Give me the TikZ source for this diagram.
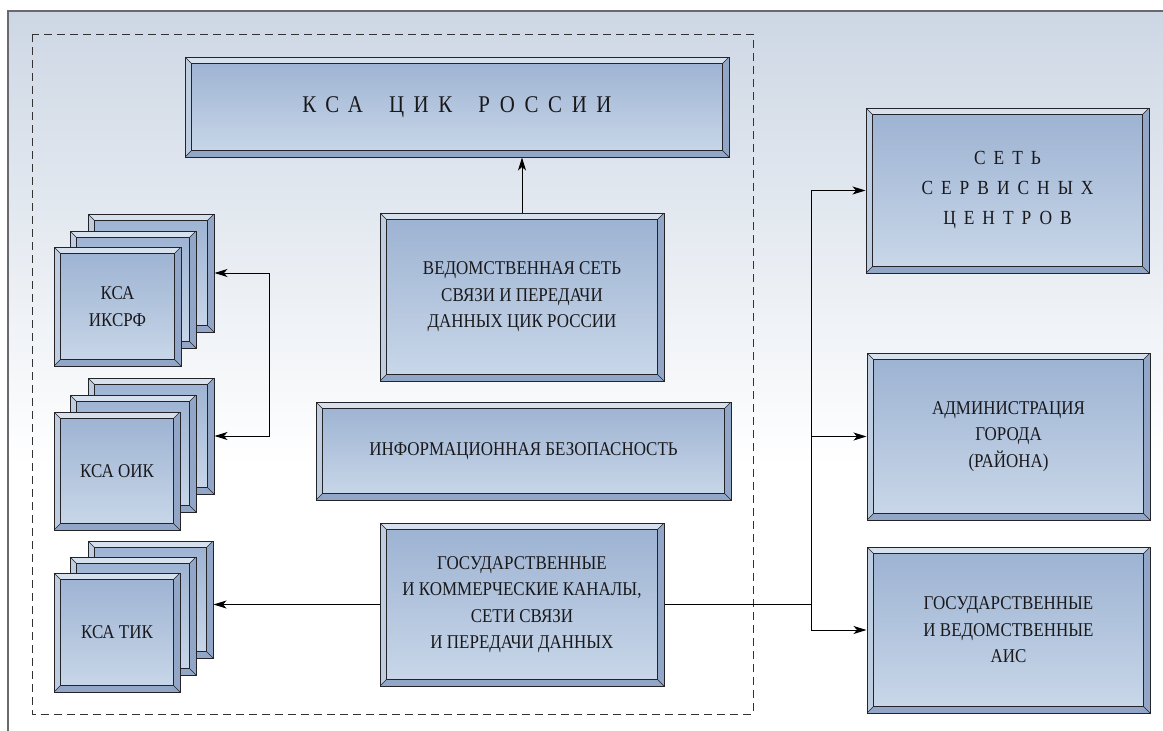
\documentclass[tikz,border=0pt]{standalone}
\usepackage{fontspec}
\setmainfont{Liberation Serif}[FakeStretch=0.87]
\usetikzlibrary{arrows.meta}
\definecolor{bgtop}{RGB}{205,215,228}
\definecolor{framec}{RGB}{105,105,110}
\definecolor{boxtop}{RGB}{156,178,210}
\definecolor{boxbot}{RGB}{202,216,233}
\definecolor{bevlight}{RGB}{214,225,237}
\definecolor{bevleft}{RGB}{190,205,224}
\definecolor{bevmid}{RGB}{146,167,199}
\definecolor{edge}{RGB}{35,35,40}
\definecolor{txt}{RGB}{25,25,28}
\newcommand\bw{6.5pt}
\tikzset{
  bbx/.style={rectangle, draw=edge, line width=1pt, top color=boxtop, bottom color=boxbot,
    inner sep=0pt, align=center, text=txt, font=\fontsize{19.5}{26.5}\selectfont,
    path picture={
      \fill[bevlight] (path picture bounding box.north west) -- (path picture bounding box.north east)
        -- ([shift={(-\bw,-\bw)}]path picture bounding box.north east)
        -- ([shift={(\bw,-\bw)}]path picture bounding box.north west) -- cycle;
      \fill[bevleft] (path picture bounding box.north west) -- (path picture bounding box.south west)
        -- ([shift={(\bw,\bw)}]path picture bounding box.south west)
        -- ([shift={(\bw,-\bw)}]path picture bounding box.north west) -- cycle;
      \fill[bevmid] (path picture bounding box.north east) -- (path picture bounding box.south east)
        -- ([shift={(-\bw,\bw)}]path picture bounding box.south east)
        -- ([shift={(-\bw,-\bw)}]path picture bounding box.north east) -- cycle;
      \fill[bevmid] (path picture bounding box.south west) -- (path picture bounding box.south east)
        -- ([shift={(-\bw,\bw)}]path picture bounding box.south east)
        -- ([shift={(\bw,\bw)}]path picture bounding box.south west) -- cycle;
      \draw[edge, line width=0.4pt]
        (path picture bounding box.north west) -- ([shift={(\bw,-\bw)}]path picture bounding box.north west)
        (path picture bounding box.north east) -- ([shift={(-\bw,-\bw)}]path picture bounding box.north east)
        (path picture bounding box.south west) -- ([shift={(\bw,\bw)}]path picture bounding box.south west)
        (path picture bounding box.south east) -- ([shift={(-\bw,\bw)}]path picture bounding box.south east);
      \draw[edge, line width=1pt] ([shift={(\bw,-\bw)}]path picture bounding box.north west)
        rectangle ([shift={(-\bw,\bw)}]path picture bounding box.south east);
    }},
  spaced/.style={font=\fontsize{#1}{30}\selectfont\addfontfeature{LetterSpace=40}},
  conn/.style={draw=black, line width=1pt},
  arr/.style={conn, -{Stealth[length=13pt,width=8pt,inset=3.5pt]}},
  darr/.style={conn, {Stealth[length=13pt,width=8pt,inset=3.5pt]}-{Stealth[length=13pt,width=8pt,inset=3.5pt]}},
  dashbox/.style={draw=black!80, line width=0.8pt, dash pattern=on 8pt off 5pt},
}
\newcommand\bbox[7][]{\node[bbx,#1, minimum width={(#4)-(#2)}, minimum height={(#5)-(#3)}] (#6) at ({((#2)+(#4))/2},{((#3)+(#5))/2}) {#7};}
\begin{document}
\begin{tikzpicture}[x=1pt,y=-1pt]
\useasboundingbox (0,0) rectangle (1163,731);
\fill[white] (0,0) rectangle (1163,731);
\shade[top color=bgtop, bottom color=white] (8,11) rectangle (1163,465);
\draw[framec, line width=1.2pt] (8,731) -- (8,11) -- (1163,11);
\draw[dashbox] (32,34) rectangle (753,714);

% central column
\bbox[spaced=24]{185}{57}{729}{157}{cik}{КСА\hspace{26pt}ЦИК\hspace{26pt}РОССИИ}
\bbox{380}{213}{664}{381}{ved}{ВЕДОМСТВЕННАЯ СЕТЬ\\СВЯЗИ И ПЕРЕДАЧИ\\ДАННЫХ ЦИК РОССИИ}
\bbox{316}{402}{731}{500}{info}{ИНФОРМАЦИОННАЯ БЕЗОПАСНОСТЬ}
\bbox{380}{523}{664}{686}{gos}{ГОСУДАРСТВЕННЫЕ\\И КОММЕРЧЕСКИЕ КАНАЛЫ,\\СЕТИ СВЯЗИ\\И ПЕРЕДАЧИ ДАННЫХ}

% stacks
\bbox{88}{214}{214}{332}{ikc3}{}
\bbox{70}{231}{196}{348}{ikc2}{}
\bbox{54}{247}{181}{366}{ikc1}{КСА\\ИКСРФ}
\bbox{88}{378}{214}{494}{oik3}{}
\bbox{70}{395}{196}{512}{oik2}{}
\bbox{54}{412}{180}{530}{oik1}{КСА ОИК}
\bbox{88}{541}{213}{658}{tik3}{}
\bbox{70}{557}{196}{675}{tik2}{}
\bbox{54}{573}{180}{692}{tik1}{КСА ТИК}

% right column
\bbox[spaced=20]{866}{108}{1149}{273}{svc}{СЕТЬ\\СЕРВИСНЫХ\\ЦЕНТРОВ}
\bbox{867}{353}{1150}{520}{adm}{АДМИНИСТРАЦИЯ\\ГОРОДА\\(РАЙОНА)}
\bbox{867}{547}{1150}{713}{ais}{ГОСУДАРСТВЕННЫЕ\\И ВЕДОМСТВЕННЫЕ\\АИС}

% connectors
\draw[arr] (ved.north) -- (ved.north |- cik.south);
\draw[darr] (ikc3.east) -- ++(55,0) |- (oik3.east);
\draw[arr] (gos.west) -- (gos.west -| tik3.east);
\coordinate (j) at (811,604.5);
\draw[conn] (gos.east) -- (j);
\draw[arr] (j) |- (svc.west);
\draw[arr] (j) |- (adm.west);
\draw[arr] (j) |- (ais.west);
\end{tikzpicture}
\end{document}
